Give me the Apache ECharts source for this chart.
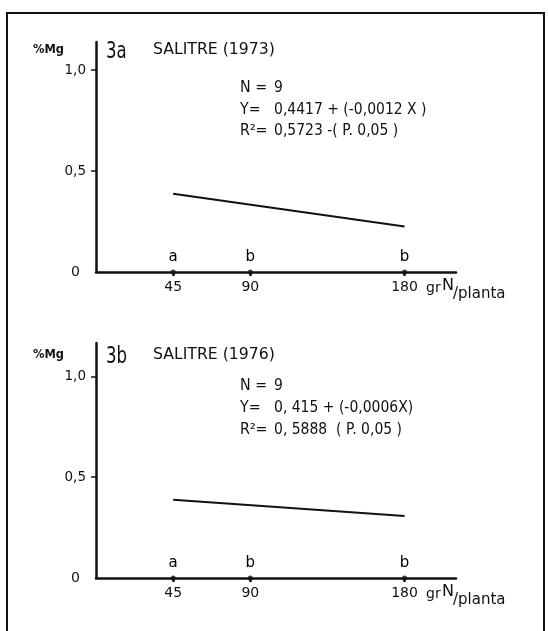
<!DOCTYPE html>
<html>
<head>
<meta charset="utf-8">
<script src="https://cdn.jsdelivr.net/npm/echarts@6/dist/echarts.min.js"></script>
<style>
html,body{margin:0;padding:0;background:#fff;}
#c{width:548px;height:631px;}
</style>
</head>
<body>
<div id="c"></div>
<script>
// ---- data ----
const xTicks = [45, 90, 180];
const yTickValues = [0, 0.5, 1.0];
const lineX = [45, 180];
const line1973 = [0.388, 0.226];
const line1976 = [0.388, 0.307];
const letters1973 = ['a', 'b', 'b'];
const letters1976 = ['a', 'b', 'b'];
const panelIds = ['3a', '3b'];
const panelTitles = ['SALITRE (1973)', 'SALITRE (1976)'];
const statLabels = ['N =', 'Y=', 'R²='];
const stats1973 = ['9', '0,4417 + (-0,0012 X )', '0,5723 -( P. 0,05 )'];
const stats1976 = ['9', '0, 415 + (-0,0006X)', '0, 5888  ( P. 0,05 )'];
const yName = '%Mg';
const xUnitGr = 'gr';
const xUnitN = 'N';
const xUnitSub = '/planta';

const FONT = 'DejaVu Sans';
const INK = '#111111';

const chart = echarts.init(document.getElementById('c'), null, {renderer: 'canvas'});

const grids = [
  {left: 96, top: 42, width: 360, height: 230},
  {left: 96, top: 343, width: 360, height: 235}
];
const yMax = [1.14, 1.165];

function xAxis(i) {
  return {
    type: 'value', gridIndex: i, min: 0, max: 210,
    splitLine: {show: false},
    axisLine: {show: true, onZero: false, lineStyle: {color: INK, width: 2.5}},
    axisTick: {show: true, customValues: xTicks, length: 4, inside: false, lineStyle: {color: INK, width: 2.5}},
    axisLabel: {show: true, customValues: xTicks, margin: 8, color: INK, fontFamily: FONT, fontSize: 14}
  };
}
function yAxis(i) {
  return {
    type: 'value', gridIndex: i, min: 0, max: yMax[i],
    splitLine: {show: false},
    axisLine: {show: true, onZero: false, lineStyle: {color: INK, width: 2.5}},
    axisTick: {show: true, customValues: [0.5, 1.0], length: 5, inside: false, lineStyle: {color: INK, width: 1.5}},
    axisLabel: {
      show: true, customValues: yTickValues, margin: 10, color: INK, fontFamily: FONT, fontSize: 13.5,
      formatter: v => v === 0 ? '{z|0}' : v.toFixed(1).replace('.', ','),
      rich: {z: {padding: [0, 6, 0, 0], fontFamily: FONT, fontSize: 14, color: INK}}
    }
  };
}
function lineSeries(i, ys) {
  return {
    type: 'line', xAxisIndex: i, yAxisIndex: i,
    data: lineX.map((x, k) => [x, ys[k]]),
    symbol: 'none', lineStyle: {color: INK, width: 2}, silent: true
  };
}
function letterSeries(i, letters) {
  return {
    type: 'scatter', xAxisIndex: i, yAxisIndex: i,
    data: xTicks.map((x, k) => ({value: [x, 0], name: letters[k]})),
    symbolSize: 5, itemStyle: {color: INK},
    label: {show: true, position: 'top', distance: 5, formatter: p => p.name,
      color: '#000', fontFamily: FONT, fontSize: 15, opacity: 1},
    silent: true
  };
}

function textEl(x, y, text, font, sx) {
  return {
    type: 'text', x: x, y: y, scaleX: sx || 1,
    style: {text: text, fill: INK, font: font, verticalAlign: 'middle'}
  };
}
const F = (s, w) => (w ? w + ' ' : '') + s + 'px "' + FONT + '"';

const statsAll = [stats1973, stats1976];
const panelY = [50, 355];
const statY = [[88, 110, 131], [386, 408, 430]];
const axisY = [272, 578];

const graphics = [
  {type: 'rect', shape: {x: 7, y: 13, width: 537, height: 640},
   style: {fill: 'none', stroke: INK, lineWidth: 2}}
];
for (let i = 0; i < 2; i++) {
  graphics.push(textEl(33, panelY[i], yName, F(13, 'bold'), 0.88));
  graphics.push(textEl(106, panelY[i] + 2, panelIds[i], F(23), 0.72));
  graphics.push(textEl(153, panelY[i], panelTitles[i], F(16), 0.98));
  for (let k = 0; k < 3; k++) {
    graphics.push(textEl(240, statY[i][k], statLabels[k], F(15), 0.95));
    graphics.push(textEl(274, statY[i][k], statsAll[i][k], F(15), 0.93));
  }
  graphics.push(textEl(426, axisY[i] + 16, xUnitGr, F(14)));
  graphics.push(textEl(442, axisY[i] + 14, xUnitN, F(16)));
  graphics.push(textEl(453, axisY[i] + 22, xUnitSub, F(15)));
}

chart.setOption({
  backgroundColor: '#ffffff',
  animation: false,
  grid: grids,
  xAxis: [xAxis(0), xAxis(1)],
  yAxis: [yAxis(0), yAxis(1)],
  series: [
    lineSeries(0, line1973), lineSeries(1, line1976),
    letterSeries(0, letters1973), letterSeries(1, letters1976)
  ],
  graphic: graphics
});
</script>
</body>
</html>
